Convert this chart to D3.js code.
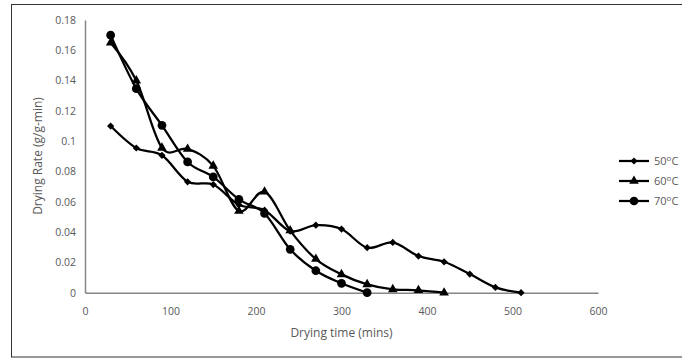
<!DOCTYPE html>
<html>
<head>
<meta charset="utf-8">
<script src="https://cdn.jsdelivr.net/npm/d3@7"></script>
<style>
  body { margin: 0; background: #fff; }
  svg { display: block; font-family: "Open Sans", "Liberation Sans", sans-serif; }
</style>
</head>
<body>
<svg id="chart" width="682" height="359"></svg>
<script>
// Drying rate (g/g-min) vs drying time (mins)
const time50 = [30, 60, 90, 120, 150, 180, 210, 240, 270, 300, 330, 360, 390, 420, 450, 480, 510];
const rate50 = [0.110, 0.0955, 0.0907, 0.0732, 0.0714, 0.058, 0.0545, 0.0407, 0.0446, 0.042, 0.0297, 0.0332, 0.0242, 0.0204, 0.0123, 0.0035, 0];

const time60 = [30, 60, 90, 120, 150, 180, 210, 240, 270, 300, 330, 360, 390, 420];
const rate60 = [0.165, 0.140, 0.0956, 0.0949, 0.0837, 0.0539, 0.0666, 0.041, 0.0222, 0.0121, 0.0055, 0.0022, 0.0016, 0];

const time70 = [30, 60, 90, 120, 150, 180, 210, 240, 270, 300, 330];
const rate70 = [0.170, 0.1347, 0.1105, 0.0863, 0.0764, 0.0616, 0.0523, 0.0286, 0.0145, 0.0062, 0];

const seriesTemps = ["50", "60", "70"];
const xTicks = [0, 100, 200, 300, 400, 500, 600];
const yTicks = [0, 0.02, 0.04, 0.06, 0.08, 0.1, 0.12, 0.14, 0.16, 0.18];

const series = [
  { temp: seriesTemps[0], marker: "diamond", pts: time50.map((t, i) => [t, rate50[i]]) },
  { temp: seriesTemps[1], marker: "triangle", pts: time60.map((t, i) => [t, rate60[i]]) },
  { temp: seriesTemps[2], marker: "circle", pts: time70.map((t, i) => [t, rate70[i]]) }
];

const svg = d3.select("#chart");
const textColor = "#595959";
const axisColor = "#868686";

// outer chart border
svg.append("rect")
  .attr("x", 11.5).attr("y", 4.5)
  .attr("width", 680).attr("height", 352.5)
  .attr("fill", "none")
  .attr("stroke", "#333")
  .attr("stroke-width", 1);

const x = d3.scaleLinear().domain([0, 600]).range([85, 598]);
const y = d3.scaleLinear().domain([0, 0.18]).range([292.7, 20]);

// axes
const xAxis = svg.append("g")
  .attr("transform", `translate(0,${y(0)})`)
  .call(d3.axisBottom(x).tickValues(xTicks).tickSize(0).tickPadding(15).tickFormat(d3.format("d")));
const yAxis = svg.append("g")
  .attr("transform", `translate(${x(0)},0)`)
  .call(d3.axisLeft(y).tickValues(yTicks).tickSize(0).tickPadding(9).tickFormat(d => d === 0 ? "0" : String(+d.toFixed(2))));

[xAxis, yAxis].forEach(g => {
  g.select(".domain").attr("stroke", axisColor).attr("stroke-width", 1.5);
  g.selectAll("text").attr("fill", textColor).attr("font-size", 10.5)
    .attr("font-family", "'Open Sans', sans-serif");
});

// axis titles
svg.append("text")
  .attr("x", 341.5).attr("y", 337)
  .attr("text-anchor", "middle")
  .attr("fill", textColor)
  .attr("font-size", 12)
  .text("Drying time (mins)");

svg.append("text")
  .attr("transform", "translate(42,156) rotate(-90)")
  .attr("text-anchor", "middle")
  .attr("fill", textColor)
  .attr("font-size", 12)
  .text("Drying Rate (g/g-min)");

// lines (Excel-style smoothed)
const line = d3.line()
  .x(d => x(d[0]))
  .y(d => y(d[1]))
  .curve(d3.curveCatmullRom.alpha(0));

const symbols = {
  diamond: d3.symbol().type(d3.symbolSquare).size(26),
  triangle: d3.symbol().type(d3.symbolTriangle).size(40),
  circle: d3.symbol().type(d3.symbolCircle).size(60)
};
const rot = m => m === "diamond" ? " rotate(45)" : "";

const plot = svg.append("g");
series.forEach(s => {
  plot.append("path")
    .datum(s.pts)
    .attr("fill", "none")
    .attr("stroke", "#000")
    .attr("stroke-width", 2.25)
    .attr("d", line);
});
series.forEach(s => {
  plot.append("g")
    .selectAll("path")
    .data(s.pts)
    .join("path")
    .attr("transform", d => `translate(${x(d[0])},${y(d[1])})${rot(s.marker)}`)
    .attr("d", symbols[s.marker])
    .attr("fill", "#000");
});

// legend
const legend = svg.append("g")
  .selectAll("g")
  .data(series)
  .join("g")
  .attr("transform", (d, i) => `translate(619,${161 + i * 20})`);
legend.append("line")
  .attr("x1", 0).attr("x2", 30)
  .attr("stroke", "#000").attr("stroke-width", 2.25);
legend.append("path")
  .attr("transform", d => `translate(15,0)${rot(d.marker)}`)
  .attr("d", d => symbols[d.marker]())
  .attr("fill", "#000");
const label = legend.append("text")
  .attr("x", 35).attr("y", 4)
  .attr("fill", textColor)
  .attr("font-size", 11);
label.append("tspan").text(d => d.temp);
label.append("tspan").attr("dy", -4).attr("font-size", 8).text("o");
label.append("tspan").attr("dy", 4).text("C");
</script>
</body>
</html>
